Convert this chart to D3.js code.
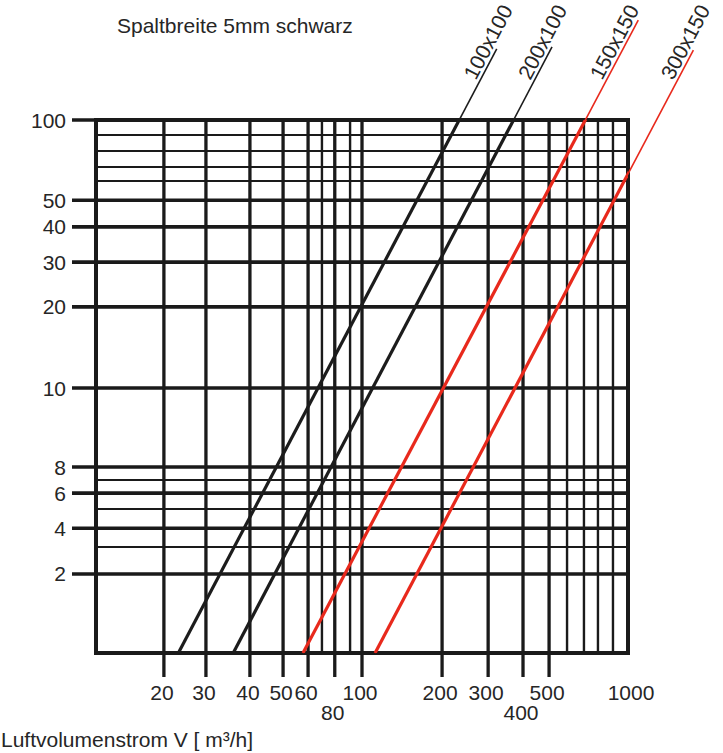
<!DOCTYPE html>
<html><head><meta charset="utf-8">
<script src="https://cdn.jsdelivr.net/npm/d3@7"></script>
<style>
body{margin:0;background:#fff;}
svg{display:block;}
text{font-family:"Liberation Sans",Arial,Helvetica,sans-serif;fill:#262626;}
</style>
</head><body>
<svg id="c" width="723" height="753"></svg>
<script>
// ---- text ----
const title = "Spaltbreite 5mm schwarz";
const xTitle = "Luftvolumenstrom V [ m³/h]";

// ---- x axis (Luftvolumenstrom, log) : gridline values as drawn in the picture ----
const xMajorValues = [18, 25.9, 37.9, 50.5, 62.7, 79, 100, 200, 298, 403, 505];
const xMajorLabels = ["20", "30", "40", "50", "60", "80", "100", "200", "300", "400", "500"];
const xLabelRow    = [0, 0, 0, 0, 0, 1, 0, 0, 0, 1, 0];
const xMinorValues = [70.7, 90.2, 590, 683, 771, 878];
const xEndValue = 1000;
const xEndLabel = "1000";

// ---- y axis (Druckverlust, log) : gridline values as drawn in the picture ----
const yMajorValues = [100, 50, 39.7, 29.3, 19.9, 9.87, 4.99, 3.98, 2.94, 1.98];
const yMajorLabels = ["100", "50", "40", "30", "20", "10", "8", "6", "4", "2"];
const yMinorValues = [87.8, 76.5, 66.6, 59.0, 4.46, 3.47, 2.50];

// ---- series: straight lines in log-log, start / end points ----
const seriesNames  = ["100x100", "200x100", "150x150", "300x150"];
const seriesStartV = [20.4, 32.8, 60, 112];
const seriesStartP = [1, 1, 1, 1];
const seriesEndV   = [321, 518, 1093, 1761];
const seriesEndP   = [185, 188, 237, 183];
const seriesColors = ["#1c1c1c", "#1c1c1c", "#e8291c", "#e8291c"];

// ---- layout ----
const L = 96, R = 628, T = 120, B = 653;
const x = d3.scaleLog().domain([10, 1000]).range([L, R]);
const y = d3.scaleLog().domain([1, 100]).range([B, T]);
const ink = "#1a1a1a";
const svg = d3.select("#c");

// clip for plot area
svg.append("defs").append("clipPath").attr("id", "plot")
  .append("rect").attr("x", L).attr("y", T).attr("width", R - L).attr("height", B - T);

const grid = svg.append("g");

// minor horizontal lines
grid.selectAll("line.hmin").data(yMinorValues).join("line")
  .attr("x1", L).attr("x2", R).attr("y1", d => y(d)).attr("y2", d => y(d))
  .attr("stroke", ink).attr("stroke-width", 2);

// minor vertical lines
grid.selectAll("line.vmin").data(xMinorValues).join("line")
  .attr("x1", d => x(d)).attr("x2", d => x(d)).attr("y1", T).attr("y2", B)
  .attr("stroke", ink).attr("stroke-width", 2.4);

// major horizontal lines with ticks to the left
grid.selectAll("line.hmaj").data(yMajorValues).join("line")
  .attr("x1", 72).attr("x2", R).attr("y1", d => y(d)).attr("y2", d => y(d))
  .attr("stroke", ink).attr("stroke-width", 3.6);

// major vertical lines with ticks below
grid.selectAll("line.vmaj").data(xMajorValues).join("line")
  .attr("x1", d => x(d)).attr("x2", d => x(d)).attr("y1", T).attr("y2", 677)
  .attr("stroke", ink).attr("stroke-width", 3.3);

// frame
grid.append("rect").attr("x", L).attr("y", T).attr("width", R - L).attr("height", B - T)
  .attr("fill", "none").attr("stroke", ink).attr("stroke-width", 4);

// series
const series = seriesNames.map((n, i) => ({
  name: n, color: seriesColors[i],
  p0: [x(seriesStartV[i]), y(seriesStartP[i])],
  p1: [x(seriesEndV[i]), y(seriesEndP[i])]
}));

const sg = svg.append("g");
// thin full line (extension above / right of the grid)
sg.selectAll("line.thin").data(series).join("line")
  .attr("x1", d => d.p0[0]).attr("y1", d => d.p0[1])
  .attr("x2", d => d.p1[0]).attr("y2", d => d.p1[1])
  .attr("stroke", d => d.color).attr("stroke-width", 1.6);
// thick part inside the plot
sg.append("g").attr("clip-path", "url(#plot)")
  .selectAll("line").data(series).join("line")
  .attr("x1", d => d.p0[0]).attr("y1", d => d.p0[1])
  .attr("x2", d => d.p1[0]).attr("y2", d => d.p1[1])
  .attr("stroke", d => d.color).attr("stroke-width", 3.2);

// series labels, parallel to their line
const labelY = 47;
sg.selectAll("text.lab").data(series).join("text")
  .attr("transform", d => {
    const t = (labelY - d.p0[1]) / (d.p1[1] - d.p0[1]);
    const px = d.p0[0] + t * (d.p1[0] - d.p0[0]);
    const ang = Math.atan2(d.p1[1] - d.p0[1], d.p1[0] - d.p0[0]) * 180 / Math.PI;
    return `translate(${px},${labelY}) rotate(${ang})`;
  })
  .attr("y", -3.5).attr("text-anchor", "middle")
  .style("font-size", "21px").text(d => d.name);

// y labels
svg.selectAll("text.yl").data(yMajorValues).join("text")
  .attr("x", 66).attr("y", d => y(d)).attr("dy", "0.36em")
  .attr("text-anchor", "end").style("font-size", "21px")
  .text((d, i) => yMajorLabels[i]);

// x labels
svg.selectAll("text.xl").data(xMajorValues).join("text")
  .attr("x", d => x(d) - 2).attr("y", (d, i) => xLabelRow[i] ? 720 : 700)
  .attr("text-anchor", "middle").style("font-size", "21px")
  .text((d, i) => xMajorLabels[i]);
svg.append("text").attr("x", x(xEndValue) + 3).attr("y", 700)
  .attr("text-anchor", "middle").style("font-size", "21px").text(xEndLabel);

// titles
svg.append("text").attr("x", 117).attr("y", 33).style("font-size", "21px").text(title);
svg.append("text").attr("x", 1).attr("y", 747).style("font-size", "21px").text(xTitle);
</script>
</body></html>
